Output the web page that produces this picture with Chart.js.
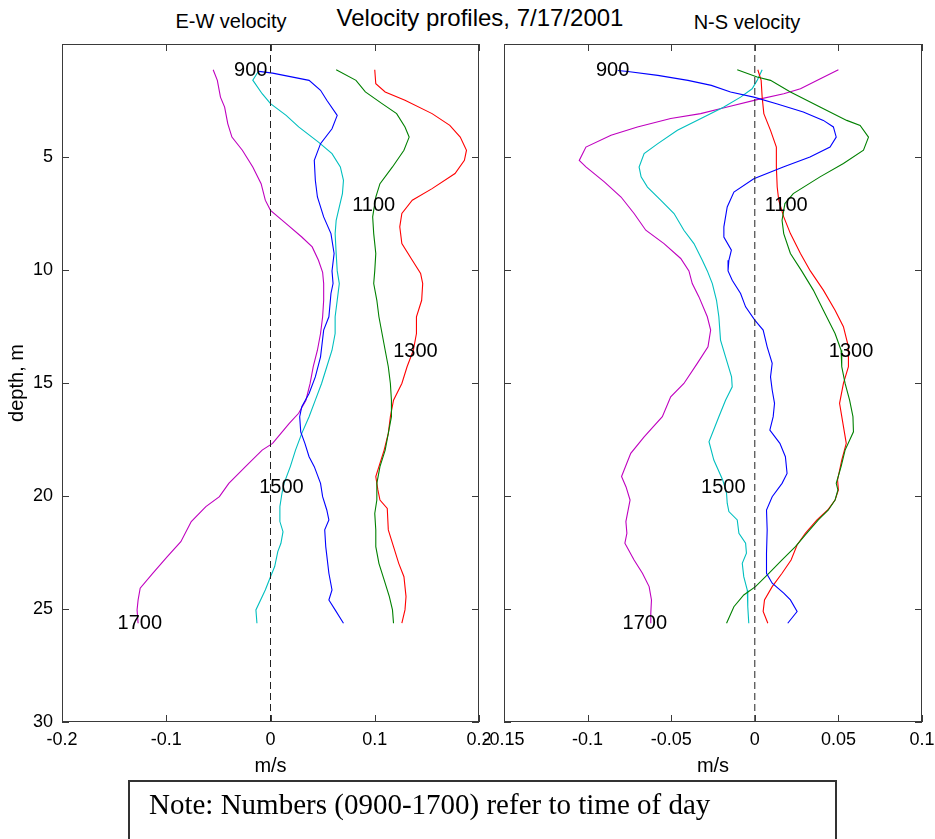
<!DOCTYPE html>
<html>
<head>
<meta charset="utf-8">
<script src="https://cdn.jsdelivr.net/npm/chart.js@4.4.0/dist/chart.umd.min.js"></script>
<style>
html, body { margin:0; padding:0; background:#fff; width:935px; height:839px; overflow:hidden; position:relative; font-family:"Liberation Sans", Arial, sans-serif; }
canvas { position:absolute; top:0; }
#cEW { left:0; }
#cNS { left:470px; }
.t { position:absolute; white-space:nowrap; line-height:1; color:#000; }
#note { position:absolute; left:128px; top:780px; width:709px; height:80px; border:2px solid #333; box-sizing:border-box; }
#noteText { position:absolute; left:19px; top:8px; font-family:"Liberation Serif","Times New Roman",serif; font-size:29px; line-height:1; white-space:nowrap; color:#000; }
</style>
</head>
<body>
<div class="t" style="left:480px; top:6px; font-size:24px; transform:translateX(-50%);">Velocity profiles, 7/17/2001</div>
<div class="t" style="left:231px; top:11px; font-size:20px; transform:translateX(-50%);">E-W velocity</div>
<div class="t" style="left:747px; top:12px; font-size:20px; transform:translateX(-50%);">N-S velocity</div>
<canvas id="cEW" width="500" height="790" style="width:500px;height:790px"></canvas>
<canvas id="cNS" width="465" height="790" style="width:465px;height:790px"></canvas>
<div id="note"><div id="noteText">Note: Numbers (0900-1700) refer to time of day</div></div>
<script>
// ---------- data ----------
const times = ['900', '1100', '1300', '1500', '1700'];
const colors = ['#0000ff', '#008000', '#ff0000', '#00bfbf', '#bf00bf'];
const depthTicks = [5, 10, 15, 20, 25, 30];
const ewTicks = [-0.2, -0.1, 0, 0.1, 0.2];
const nsTicks = [-0.15, -0.1, -0.05, 0, 0.05, 0.1];

// E-W velocity profiles: [depth (m), velocity (m/s)]
const ew0900 = [[1.21,-0.011],[1.29,0.002],[1.61,0.037],[2.05,0.048],[2.49,0.054],[3.16,0.064],[3.75,0.059],[4.41,0.048],[5.15,0.042],[6.03,0.043],[6.77,0.045],[7.65,0.051],[8.39,0.058],[9.27,0.061],[10.04,0.059],[10.6,0.060],[11.04,0.058],[12.07,0.056],[12.66,0.051],[13.84,0.048],[14.73,0.043],[15.46,0.037],[16.05,0.030],[16.49,0.028],[17.16,0.029],[17.67,0.033],[18.26,0.037],[18.7,0.042],[19.44,0.048],[20.03,0.050],[20.62,0.054],[21.06,0.056],[21.5,0.052],[22.24,0.053],[23.42,0.056],[24.16,0.059],[24.6,0.056],[25.04,0.062],[25.63,0.070]];
const ew1100 = [[1.14,0.063],[1.61,0.082],[2.12,0.091],[2.64,0.107],[3.08,0.121],[3.67,0.129],[4.12,0.133],[4.7,0.128],[5.44,0.117],[6.18,0.105],[6.77,0.101],[7.65,0.098],[8.39,0.099],[9.27,0.101],[10.04,0.100],[10.6,0.099],[11.34,0.102],[12.07,0.104],[12.81,0.107],[13.55,0.110],[14.28,0.113],[15.02,0.115],[15.76,0.116],[16.49,0.116],[17.23,0.113],[17.97,0.110],[18.7,0.105],[19.44,0.102],[20.18,0.102],[20.77,0.100],[21.5,0.101],[22.24,0.101],[22.98,0.104],[23.71,0.109],[24.45,0.114],[25.04,0.117],[25.63,0.118]];
const ew1300 = [[1.14,0.100],[1.76,0.101],[2.12,0.110],[2.49,0.129],[3.08,0.155],[3.6,0.172],[4.12,0.182],[4.7,0.188],[5.15,0.186],[5.73,0.177],[6.4,0.155],[6.91,0.136],[7.5,0.126],[8.09,0.124],[8.83,0.126],[9.57,0.136],[10.15,0.144],[10.6,0.146],[11.34,0.145],[12.07,0.140],[12.81,0.140],[13.55,0.137],[14.28,0.131],[15.02,0.126],[15.76,0.118],[16.49,0.115],[17.23,0.113],[17.97,0.109],[18.7,0.104],[19.14,0.101],[19.73,0.103],[20.18,0.105],[20.55,0.112],[21.5,0.113],[22.24,0.118],[22.98,0.123],[23.57,0.128],[24.45,0.130],[25.04,0.129],[25.63,0.126]];
const ew1500 = [[1.24,-0.012],[1.6,-0.017],[2.2,-0.008],[2.64,0.000],[3.16,0.015],[3.67,0.027],[4.34,0.046],[4.85,0.059],[5.44,0.067],[6.03,0.070],[6.62,0.069],[7.21,0.066],[7.8,0.063],[8.39,0.062],[9.27,0.063],[10.04,0.064],[10.6,0.066],[11.34,0.064],[12.07,0.062],[12.81,0.062],[13.55,0.059],[14.28,0.054],[15.02,0.049],[15.76,0.043],[16.49,0.037],[17.23,0.030],[17.97,0.024],[18.7,0.019],[19.44,0.013],[19.88,0.011],[20.47,0.009],[21.13,0.009],[21.58,0.012],[22.09,0.010],[22.46,0.007],[23.12,0.004],[23.57,0.000],[24.16,-0.005],[25.04,-0.014],[25.63,-0.013]];
const ew1700 = [[1.14,-0.055],[1.61,-0.051],[2.35,-0.048],[2.79,-0.044],[3.52,-0.041],[4.12,-0.037],[4.7,-0.027],[5.44,-0.017],[6.18,-0.009],[6.91,-0.005],[7.36,0.000],[7.95,0.015],[8.54,0.030],[8.98,0.040],[9.57,0.046],[10.1,0.050],[10.6,0.051],[11.34,0.051],[12.07,0.050],[12.81,0.048],[13.55,0.045],[14.28,0.041],[15.02,0.038],[15.76,0.034],[16.34,0.027],[16.79,0.018],[17.23,0.010],[17.67,0.002],[17.97,-0.008],[18.7,-0.024],[19.44,-0.040],[20.03,-0.049],[20.47,-0.062],[21.13,-0.076],[22.02,-0.086],[22.68,-0.099],[23.42,-0.113],[24.08,-0.125],[24.6,-0.127],[25.04,-0.128],[25.63,-0.127]];

// N-S velocity profiles: [depth (m), velocity (m/s)]
const ns0900 = [[1.17,-0.082],[1.22,-0.076],[1.39,-0.058],[1.61,-0.040],[1.83,-0.026],[2.12,-0.0145],[2.35,-0.0006],[2.64,0.013],[3.01,0.029],[3.38,0.041],[3.67,0.047],[4.12,0.0487],[4.56,0.045],[5.0,0.033],[5.44,0.017],[5.96,-0.0006],[6.55,-0.0125],[7.21,-0.0165],[8.09,-0.0185],[8.54,-0.0185],[9.12,-0.014],[9.57,-0.0155],[10.04,-0.016],[10.45,-0.0135],[11.04,-0.0085],[11.63,-0.0055],[12.22,0.0],[12.66,0.005],[13.4,0.0074],[14.13,0.0104],[14.73,0.0094],[15.31,0.0104],[15.9,0.0118],[16.49,0.011],[17.08,0.009],[17.67,0.015],[18.26,0.0183],[19.0,0.0193],[19.44,0.0163],[20.03,0.0104],[20.62,0.007],[21.5,0.0074],[22.53,0.007],[23.42,0.007],[23.86,0.0104],[24.3,0.0173],[24.6,0.0213],[25.11,0.0253],[25.63,0.0197]];
const ns1100 = [[1.14,-0.0105],[1.46,0.0014],[1.61,0.0094],[2.12,0.0213],[2.79,0.039],[3.38,0.055],[3.6,0.063],[4.12,0.068],[4.7,0.065],[5.29,0.053],[5.88,0.039],[6.62,0.023],[7.06,0.018],[7.8,0.0163],[8.39,0.0173],[9.27,0.0213],[10.04,0.028],[10.89,0.035],[11.78,0.041],[12.81,0.048],[13.55,0.0516],[14.28,0.052],[15.02,0.054],[15.76,0.0567],[16.49,0.0587],[17.16,0.059],[17.97,0.054],[18.7,0.0516],[19.44,0.0487],[19.73,0.0497],[20.18,0.048],[20.62,0.044],[21.06,0.038],[21.65,0.031],[22.24,0.0243],[22.83,0.0163],[23.42,0.0084],[24.01,0.0004],[24.38,-0.0066],[24.9,-0.0125],[25.63,-0.0169]];
const ns1300 = [[1.14,0.0018],[1.61,0.0038],[2.35,0.0044],[3.08,0.0054],[3.82,0.0094],[4.56,0.0129],[5.44,0.0129],[6.33,0.0134],[6.91,0.0143],[7.65,0.0173],[8.39,0.0213],[9.27,0.0273],[10.04,0.0332],[10.89,0.041],[11.78,0.048],[12.51,0.053],[13.4,0.056],[14.28,0.056],[15.02,0.053],[15.9,0.0507],[16.79,0.0527],[17.67,0.0547],[18.41,0.052],[19.29,0.0495],[19.73,0.050],[20.18,0.048],[20.62,0.0436],[21.06,0.0372],[21.65,0.0302],[22.17,0.0253],[22.83,0.0217],[23.42,0.0163],[24.01,0.0104],[24.6,0.0058],[25.11,0.005],[25.63,0.0078]];
const ns1500 = [[1.14,0.0044],[1.61,0.0014],[1.98,-0.0016],[2.35,-0.0085],[2.79,-0.0185],[3.23,-0.0304],[3.82,-0.0463],[4.41,-0.058],[4.85,-0.0662],[5.44,-0.0692],[5.88,-0.068],[6.33,-0.0642],[6.91,-0.0563],[7.5,-0.0483],[8.24,-0.0424],[8.83,-0.0364],[9.57,-0.0314],[10.04,-0.0284],[10.6,-0.0254],[11.34,-0.0229],[12.07,-0.0215],[13.1,-0.0205],[13.84,-0.0175],[14.73,-0.0139],[15.17,-0.0135],[15.76,-0.0175],[16.49,-0.0215],[17.6,-0.0274],[18.41,-0.0245],[19.29,-0.0192],[19.88,-0.0169],[20.32,-0.0165],[20.69,-0.0155],[21.06,-0.0105],[21.65,-0.0095],[22.09,-0.0055],[22.53,-0.005],[22.98,-0.0075],[23.57,-0.0066],[24.16,-0.0045],[24.9,-0.0042],[25.63,-0.0036]];
const ns1700 = [[1.14,0.050],[1.54,0.0392],[1.98,0.0273],[2.2,0.0173],[2.46,0.0014],[2.79,-0.0165],[3.08,-0.0324],[3.3,-0.0503],[3.67,-0.0702],[4.04,-0.086],[4.56,-0.101],[5.15,-0.105],[5.44,-0.101],[6.1,-0.090],[6.77,-0.080],[7.5,-0.0722],[8.24,-0.0652],[8.83,-0.0543],[9.49,-0.0443],[10.04,-0.0394],[10.6,-0.0374],[11.19,-0.0334],[12.07,-0.0284],[12.66,-0.0264],[13.4,-0.028],[14.13,-0.0344],[15.02,-0.0424],[15.61,-0.0503],[16.49,-0.0553],[17.38,-0.0662],[18.11,-0.0742],[19.14,-0.0797],[19.6,-0.077],[20.18,-0.0746],[21.13,-0.0771],[21.65,-0.0765],[22.09,-0.0777],[22.83,-0.0722],[23.42,-0.0672],[24.01,-0.0632],[24.6,-0.0618],[25.19,-0.0622],[25.63,-0.0622]];

// time-of-day labels placed on the curves: [depth, velocity]
const ewLabelAt = [[1.17,-0.019],[7.13,0.099],[13.62,0.139],[19.62,0.0105],[25.63,-0.1254]];
const nsLabelAt = [[1.17,-0.085],[7.13,0.0188],[13.62,0.0576],[19.62,-0.0188],[25.63,-0.0658]];

// ---------- drawing ----------
const FRAME = '#3a3a3a';
const FONT = '"Liberation Sans", Arial, sans-serif';
Chart.defaults.font.family = FONT;
Chart.defaults.color = '#000';

const frameTicks = {
  id: 'frameTicks',
  afterDatasetsDraw(chart) {
    const {ctx, chartArea: a, scales: {x, y}} = chart;
    ctx.save();
    ctx.strokeStyle = FRAME;
    ctx.lineWidth = 1;
    ctx.strokeRect(Math.round(a.left) + 0.5, Math.round(a.top) + 0.5, Math.round(a.right - a.left) - 1, Math.round(a.bottom - a.top) - 1);
    ctx.beginPath();
    const L = 7;
    x.ticks.forEach(t => {
      const px = Math.round(x.getPixelForValue(t.value)) + 0.5;
      ctx.moveTo(px, a.bottom); ctx.lineTo(px, a.bottom - L);
      ctx.moveTo(px, a.top); ctx.lineTo(px, a.top + L);
    });
    y.ticks.forEach(t => {
      const py = Math.round(y.getPixelForValue(t.value)) + 0.5;
      ctx.moveTo(a.left, py); ctx.lineTo(a.left + L, py);
      ctx.moveTo(a.right, py); ctx.lineTo(a.right - L, py);
    });
    ctx.stroke();
    ctx.restore();
  }
};

const curveLabels = {
  id: 'curveLabels',
  afterDatasetsDraw(chart, args, opts) {
    const {ctx, scales: {x, y}} = chart;
    ctx.save();
    ctx.font = '20px ' + FONT;
    ctx.fillStyle = '#000';
    ctx.textAlign = 'center';
    ctx.textBaseline = 'middle';
    opts.items.forEach((p, i) => {
      ctx.fillText(times[i], x.getPixelForValue(p[1]), y.getPixelForValue(p[0]));
    });
    ctx.restore();
  }
};

function makeChart(id, series, xTicks, axisW, padRight, showY, labelAt) {
  const datasets = [{
    data: [{x: 0, y: 0}, {x: 0, y: 30}],
    borderColor: '#222', borderWidth: 1, borderDash: [7, 4],
    showLine: true, pointRadius: 0, fill: false
  }];
  series.forEach((s, i) => {
    datasets.push({
      label: times[i],
      data: s.map(p => ({x: p[1], y: p[0]})),
      borderColor: colors[i], borderWidth: 1.1,
      showLine: true, pointRadius: 0, fill: false, tension: 0
    });
  });
  return new Chart(document.getElementById(id), {
    type: 'scatter',
    data: {datasets},
    options: {
      responsive: false, animation: false, devicePixelRatio: 1,
      layout: {padding: {top: 44, right: padRight, left: 0, bottom: 0}},
      plugins: {legend: {display: false}, tooltip: {enabled: false}, curveLabels: {items: labelAt}},
      scales: {
        x: {
          type: 'linear', min: xTicks[0], max: xTicks[xTicks.length - 1],
          afterBuildTicks: s => { s.ticks = xTicks.map(v => ({value: v})); },
          afterFit: s => { s.height = 68; s.paddingLeft = 0; s.paddingRight = 0; },
          ticks: {callback: v => String(v), font: {size: 18}, color: '#000', padding: 7, maxRotation: 0, autoSkip: false},
          grid: {display: false, drawTicks: false},
          border: {display: false},
          title: {display: true, text: 'm/s', font: {size: 20}, color: '#000', padding: {top: 0, bottom: 12}}
        },
        y: {
          type: 'linear', reverse: true, min: 0, max: 30,
          afterBuildTicks: s => { s.ticks = depthTicks.map(v => ({value: v})); },
          afterFit: s => { s.width = axisW; s.paddingTop = 0; s.paddingBottom = 0; },
          ticks: {display: showY, font: {size: 18}, color: '#000', padding: 9, autoSkip: false},
          grid: {display: false, drawTicks: false},
          border: {display: false},
          title: {display: showY, text: 'depth, m', font: {size: 20}, color: '#000', padding: {top: 5, bottom: 0}}
        }
      }
    },
    plugins: [frameTicks, curveLabels]
  });
}

makeChart('cEW', [ew0900, ew1100, ew1300, ew1500, ew1700], ewTicks, 62, 21, true, ewLabelAt);
makeChart('cNS', [ns0900, ns1100, ns1300, ns1500, ns1700], nsTicks, 34, 13, false, nsLabelAt);
</script>
</body>
</html>
